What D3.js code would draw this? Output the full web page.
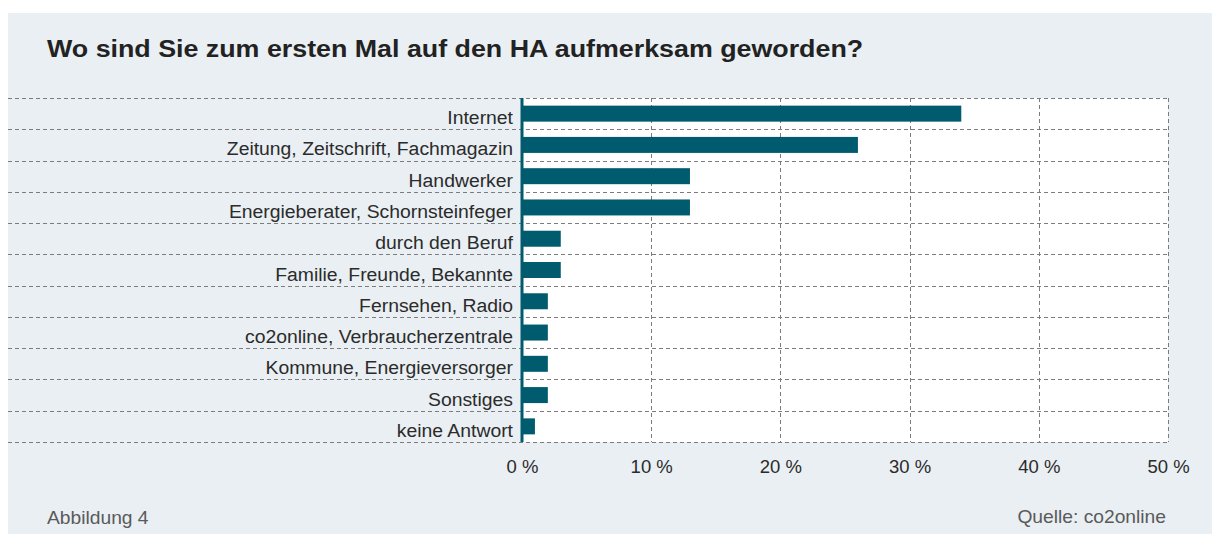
<!DOCTYPE html>
<html>
<head>
<meta charset="utf-8">
<script src="https://cdn.jsdelivr.net/npm/d3@7"></script>
<style>
  html, body { margin: 0; padding: 0; background: #ffffff; }
  svg { display: block; font-family: "Liberation Sans", Arial, sans-serif; }
</style>
</head>
<body>
<svg id="drawing_region"></svg>
<script>
const categories = [
    "Internet",
    "Zeitung, Zeitschrift, Fachmagazin",
    "Handwerker",
    "Energieberater, Schornsteinfeger",
    "durch den Beruf",
    "Familie, Freunde, Bekannte",
    "Fernsehen, Radio",
    "co2online, Verbraucherzentrale",
    "Kommune, Energieversorger",
    "Sonstiges",
    "keine Antwort"
];
const shares = [34, 26, 13, 13, 3, 3, 2, 2, 2, 2, 1];
const xticks = [0, 10, 20, 30, 40, 50];

const title = "Wo sind Sie zum ersten Mal auf den HA aufmerksam geworden?";
const figure_note = "Abbildung 4";
const source_note = "Quelle: co2online";

const width = 1212, height = 534;
const plot = { left: 522, right: 1168, top: 98, bottom: 442 };
const bar_color = "#005b6e";
const grid_color = "#7c7c7c";
const font = '"Liberation Sans", Arial, sans-serif';

const svg = d3.select('#drawing_region')
    .attr('width', width)
    .attr('height', height);

// panel background
svg.append('rect')
    .attr('x', 8).attr('y', 13)
    .attr('width', width - 8).attr('height', height - 13)
    .attr('fill', '#e9eff3');

// white plot area
svg.append('rect')
    .attr('x', plot.left).attr('y', plot.top)
    .attr('width', plot.right - plot.left).attr('height', plot.bottom - plot.top)
    .attr('fill', '#ffffff');

const xscale = d3.scaleLinear()
    .domain([0, 50])
    .range([plot.left, plot.right]);

const yscale = d3.scaleBand()
    .domain(categories)
    .range([plot.top, plot.bottom])
    .paddingInner(0)
    .paddingOuter(0);

// horizontal dashed row separators (extend to the left edge)
const row_edges = categories.map(c => yscale(c)).concat([plot.bottom]);
svg.append('g')
    .selectAll('line')
    .data(row_edges)
    .join('line')
    .attr('x1', 8).attr('x2', plot.right)
    .attr('y1', d => Math.round(d) + 0.5).attr('y2', d => Math.round(d) + 0.5)
    .attr('stroke', grid_color)
    .attr('stroke-width', 1)
    .attr('stroke-dasharray', '4,3');

// vertical dashed grid
svg.append('g')
    .selectAll('line')
    .data(xticks.slice(1))
    .join('line')
    .attr('x1', d => Math.round(xscale(d)) + 0.5).attr('x2', d => Math.round(xscale(d)) + 0.5)
    .attr('y1', plot.top).attr('y2', plot.bottom)
    .attr('stroke', grid_color)
    .attr('stroke-width', 1)
    .attr('stroke-dasharray', '4,3');

// bars
const bar_h = 16;
svg.append('g')
    .selectAll('rect')
    .data(categories)
    .join('rect')
    .attr('x', xscale(0))
    .attr('y', d => yscale(d) + (yscale.bandwidth() - bar_h) / 2)
    .attr('width', (d, i) => xscale(shares[i]) - xscale(0))
    .attr('height', bar_h)
    .attr('fill', bar_color);

// y axis line
svg.append('line')
    .attr('x1', xscale(0)).attr('x2', xscale(0))
    .attr('y1', plot.top).attr('y2', plot.bottom)
    .attr('stroke', bar_color)
    .attr('stroke-width', 3);

// category labels (slightly wide type, as in the original)
const yaxis = d3.axisLeft(yscale).tickSize(0).tickPadding(0);
const yaxis_group = svg.append('g')
    .attr('transform', `translate(${xscale(0)},0)`)
    .call(yaxis);
yaxis_group.select('.domain').remove();
yaxis_group.selectAll('text')
    .attr('x', 0)
    .attr('dy', null)
    .attr('y', 10.5)
    .attr('transform', 'translate(-9,0) scale(1.1,1)')
    .style('font-size', '17.6px')
    .style('font-family', font)
    .attr('fill', '#2b2b2b');

// x axis tick labels
const xaxis = d3.axisBottom(xscale)
    .tickValues(xticks)
    .tickSize(0)
    .tickPadding(0)
    .tickFormat(d => d + " %");
const xaxis_group = svg.append('g')
    .attr('transform', `translate(0,${plot.bottom})`)
    .call(xaxis);
xaxis_group.select('.domain').remove();
xaxis_group.selectAll('text')
    .attr('dy', null)
    .attr('y', 31)
    .style('font-size', '18.5px')
    .style('font-family', font)
    .attr('fill', '#2b2b2b');

// title
svg.append('text')
    .attr('transform', 'translate(47,57) scale(1.09,1)')
    .style('font-size', '24.6px')
    .style('font-weight', 'bold')
    .style('font-family', font)
    .attr('fill', '#222222')
    .text(title);

// footer
svg.append('text')
    .attr('transform', 'translate(47,524) scale(1.1,1)')
    .style('font-size', '17.5px')
    .style('font-family', font)
    .attr('fill', '#5a5a5a')
    .text(figure_note);

svg.append('text')
    .attr('transform', 'translate(1166,523) scale(1.1,1)')
    .attr('text-anchor', 'end')
    .style('font-size', '17.5px')
    .style('font-family', font)
    .attr('fill', '#5a5a5a')
    .text(source_note);
</script>
</body>
</html>
